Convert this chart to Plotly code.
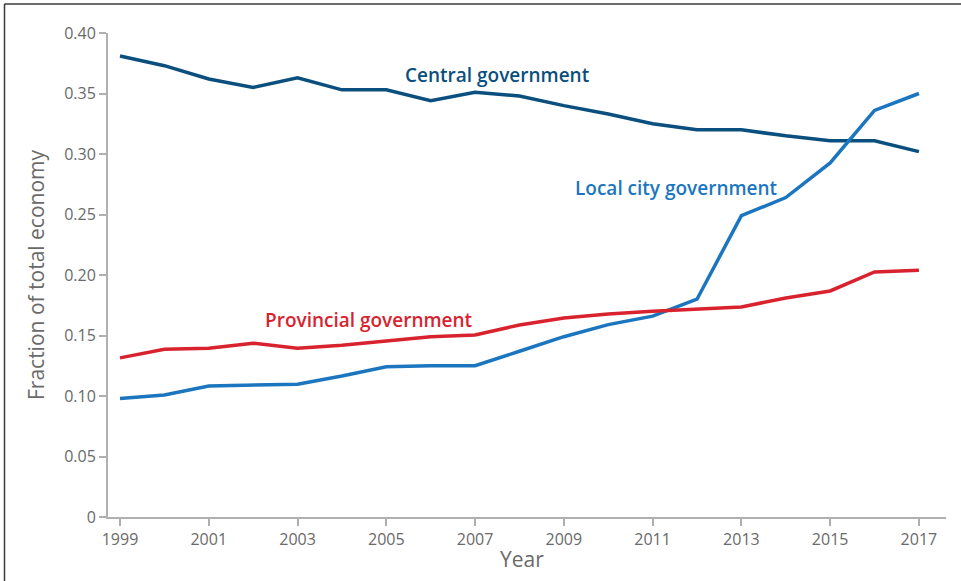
import plotly.graph_objects as go

years = list(range(1999, 2018))
central = [0.381, 0.373, 0.362, 0.355, 0.363, 0.353, 0.353, 0.344, 0.351, 0.348,
           0.340, 0.333, 0.325, 0.320, 0.320, 0.315, 0.311, 0.311, 0.302]
local_city = [0.098, 0.1008, 0.1083, 0.109, 0.1097, 0.1165, 0.1242, 0.125, 0.125, 0.137,
              0.149, 0.159, 0.166, 0.180, 0.249, 0.264, 0.2926, 0.336, 0.350]
provincial = [0.1315, 0.1386, 0.1394, 0.1436, 0.1394, 0.142, 0.1455, 0.149, 0.1504, 0.1587,
              0.1645, 0.1678, 0.170, 0.172, 0.1736, 0.181, 0.1868, 0.2025, 0.204]

y_tickvals = [0, 0.05, 0.10, 0.15, 0.20, 0.25, 0.30, 0.35, 0.40]
y_ticktext = ["0", "0.05", "0.10", "0.15", "0.20", "0.25", "0.30", "0.35", "0.40"]
x_tickvals = [1999, 2001, 2003, 2005, 2007, 2009, 2011, 2013, 2015, 2017]

C_CENTRAL = "#0a4f7e"
C_LOCAL = "#1b76bf"
C_PROV = "#d8232f"
GRAY_TXT = "#6a6a6a"
AXIS = "#b0b0b3"
FONT = "'Open Sans', Lato, sans-serif"

fig = go.Figure()
fig.add_trace(go.Scatter(x=years, y=central, mode="lines",
                         line=dict(color=C_CENTRAL, width=3.5), name="Central government"))
fig.add_trace(go.Scatter(x=years, y=local_city, mode="lines",
                         line=dict(color=C_LOCAL, width=3.5), name="Local city government"))
fig.add_trace(go.Scatter(x=years, y=provincial, mode="lines",
                         line=dict(color=C_PROV, width=3.5), name="Provincial government"))

ann_font = dict(family=FONT, size=19, weight=600)
fig.add_annotation(x=2007.49, y=0.3655, text="Central government", showarrow=False,
                   font=dict(ann_font, color=C_CENTRAL), xanchor="center", yanchor="middle")
fig.add_annotation(x=2011.52, y=0.272, text="Local city government", showarrow=False,
                   font=dict(ann_font, color=C_LOCAL), xanchor="center", yanchor="middle")
fig.add_annotation(x=2004.6, y=0.163, text="Provincial government", showarrow=False,
                   font=dict(ann_font, color=C_PROV), xanchor="center", yanchor="middle")
# x-axis title
fig.add_annotation(xref="paper", yref="paper", x=0.494, y=-0.0868, text="Year", showarrow=False,
                   font=dict(family=FONT, size=21, color=GRAY_TXT), xanchor="center", yanchor="middle")

# frame lines (top and left, as in the reference crop)
fig.add_shape(type="line", xref="paper", yref="paper", x0=-0.1235, x1=1.05, y0=1.0599, y1=1.0599,
              line=dict(color="#3a3a3a", width=1.5))
fig.add_shape(type="line", xref="paper", yref="paper", x0=-0.1235, x1=-0.1235, y0=1.0599, y1=-0.2,
              line=dict(color="#3a3a3a", width=1.5))

fig.update_layout(
    width=961, height=581,
    margin=dict(l=108, r=15, t=33, b=64, autoexpand=False),
    paper_bgcolor="white", plot_bgcolor="white",
    showlegend=False,
    font=dict(family=FONT, color=GRAY_TXT),
)
fig.update_xaxes(
    range=[1998.73, 2017.61], tickvals=x_tickvals, ticks="outside", ticklen=7,
    tickcolor=AXIS, tickwidth=1.5, showline=True, linecolor=AXIS, linewidth=2,
    showgrid=False, zeroline=False, tickfont=dict(size=16, color=GRAY_TXT),
    automargin=False,
)
fig.update_yaxes(
    range=[0, 0.40], tickvals=y_tickvals, ticktext=y_ticktext, ticks="outside", ticklen=7,
    tickcolor=AXIS, tickwidth=1.5, showline=True, linecolor=AXIS, linewidth=2,
    showgrid=False, zeroline=False, tickfont=dict(size=16, color=GRAY_TXT),
    automargin=False,
    title=dict(text="Fraction of total economy", font=dict(size=21, color=GRAY_TXT), standoff=14),
)

fig.write_html("out.html", config={"displayModeBar": False},
               post_script="document.body.style.margin='0px';")
